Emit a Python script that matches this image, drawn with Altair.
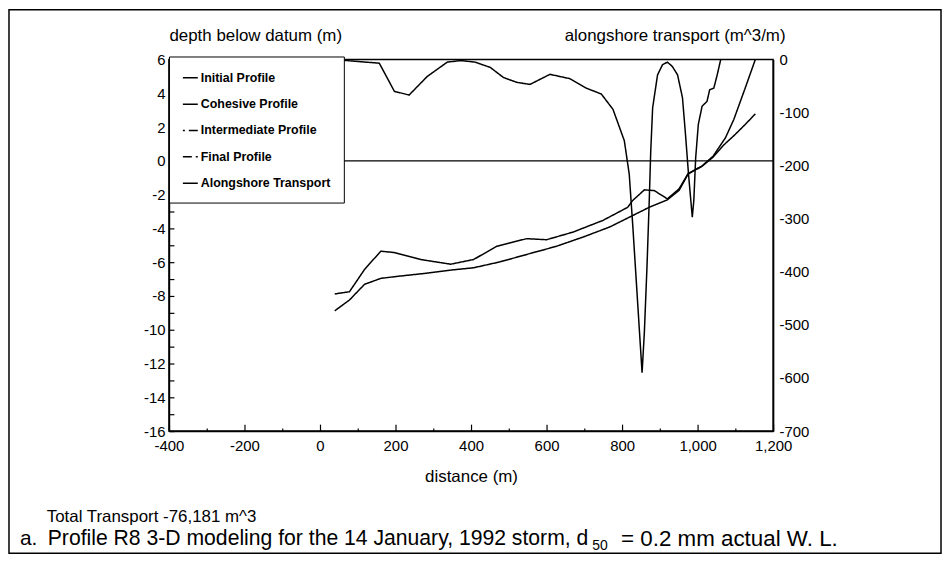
import altair as alt
import pandas as pd

# ---------------- data ----------------
initial_x = [39, 78, 118, 161, 197, 266, 346, 407, 468, 547, 600, 670, 749, 815, 828,
             859, 885, 920, 951, 975, 1012, 1041, 1074, 1096, 1126, 1153]
initial_depth = [-7.88, -7.75, -6.43, -5.35, -5.43, -5.84, -6.12, -5.84, -5.06, -4.61,
                 -4.67, -4.22, -3.53, -2.75, -2.35, -1.72, -1.76, -2.25, -1.66, -0.75,
                 -0.3, 0.27, 1.37, 2.45, 4.3, 6.0]

cohesive_x = [39, 78, 118, 161, 197, 275, 346, 407, 477, 556, 626, 697, 767, 819, 837,
              872, 920, 951, 975, 1012, 1041, 1070, 1100, 1126, 1153]
cohesive_depth = [-8.88, -8.24, -7.31, -6.96, -6.86, -6.67, -6.47, -6.33, -5.98, -5.49,
                  -5.06, -4.51, -3.92, -3.34, -3.14, -2.75, -2.31, -1.75, -0.78, -0.32,
                  0.22, 0.95, 1.57, 2.15, 2.78]

transport_x = [30, 69, 157, 197, 236, 284, 337, 372, 411, 451, 486, 521, 556, 609, 661,
               705, 745, 776, 806, 819, 828, 837, 845, 853, 859, 866, 872, 876, 881, 894,
               907, 920, 933, 947, 960, 968, 976, 986, 990, 995, 1002, 1012, 1025, 1032,
               1043, 1052, 1061, 1066]
transport_val = [0, -2, -7, -60, -67, -32, -5, -2, -5, -15, -34, -43, -47, -28, -36,
                 -54, -65, -94, -153, -216, -309, -410, -500, -590, -515, -391, -266, -172,
                 -91, -29, -10, -5, -13, -29, -72, -141, -216, -297, -266, -185, -122, -88,
                 -79, -57, -54, -29, -1, 15]

datum_level = [0]

series_names = ["Initial Profile", "Cohesive Profile", "Intermediate Profile",
                "Final Profile", "Alongshore Transport"]
dash_styles = [[1, 0], [1, 0], [2, 4, 9, 30], [9, 4, 2, 30], [1, 0]]

x_ticks = list(range(-400, 1201, 100))
depth_ticks = list(range(-16, 7, 1))
transport_ticks = list(range(-700, 1, 100))

depth_title = "depth below datum (m)"
transport_title = "alongshore transport (m^3/m)"
distance_title = "distance (m)"
total_text = "Total Transport  -76,181 m^3"
caption_lead = "a."
caption_main = "Profile R8 3-D modeling for the 14 January, 1992 storm, d"
caption_sub = "50"
caption_tail = "= 0.2 mm actual W. L."

# ---------------- tables ----------------
profiles = pd.DataFrame({
    "distance": initial_x + cohesive_x,
    "depth": initial_depth + cohesive_depth,
    "series": [series_names[0]] * len(initial_x) + [series_names[1]] * len(cohesive_x),
})
transport = pd.DataFrame({
    "distance": transport_x,
    "transport": transport_val,
    "series": [series_names[4]] * len(transport_x),
})
level = pd.DataFrame({"depth": datum_level})

W, H = 608, 374
FONT = "Liberation Sans"

neg = "(datum.value < 0 ? '-' + format(-datum.value, ',') : format(datum.value, ','))"

x_axis = alt.Axis(
    values=x_ticks,
    labelExpr="datum.value % 200 === 0 ? " + neg + " : ''",
    tickSize={"expr": "datum.value % 200 === 0 ? -7 : -3"},
    labelPadding=15,
    title=distance_title,
    titleX=W / 2,
    titleY=46,
    titleBaseline="middle",
    labelFlush=False,
    labelOverlap=False,
    grid=False,
)
x_scale = alt.Scale(domain=[-400, 1200], nice=False, zero=False)

depth_axis = alt.Axis(
    values=depth_ticks,
    labelExpr="datum.value % 2 === 0 ? " + neg + " : ''",
    tickSize={"expr": "-5"},
    labelPadding=9,
    title=depth_title,
    titleAngle=0,
    titleAlign="left",
    titleBaseline="middle",
    titleX=0,
    titleY=-24,
    labelFlush=False,
    labelOverlap=False,
    grid=False,
)
depth_scale = alt.Scale(domain=[-16, 6], nice=False, zero=False)

dash_enc = alt.StrokeDash(
    "series:N",
    scale=alt.Scale(domain=series_names, range=dash_styles),
    legend=alt.Legend(
        title=None,
        orient="none",
        legendX=0,
        legendY=-3,
        symbolType="stroke",
        symbolSize=225,
        symbolStrokeWidth=1.5,
        symbolStrokeColor="black",
        labelFont=FONT,
        labelFontSize=12.5,
        labelFontWeight="bold",
        labelColor="black",
        labelOffset=2,
        labelLimit=300,
        padding=13,
        rowPadding=11.5,
        fillColor="white",
        strokeColor="black",
    ),
)

zero_rule = alt.Chart(level).mark_rule(color="black", strokeWidth=1.2).encode(
    y=alt.Y("depth:Q", scale=depth_scale, axis=depth_axis)
)

profile_lines = alt.Chart(profiles).mark_line(
    color="black", strokeWidth=1.5, clip=True
).encode(
    x=alt.X("distance:Q", scale=x_scale, axis=x_axis),
    y=alt.Y("depth:Q", scale=depth_scale, axis=depth_axis),
    strokeDash=dash_enc,
)

left_layer = alt.layer(zero_rule, profile_lines)

transport_line = alt.Chart(transport).mark_line(
    color="black", strokeWidth=1.5, clip=True
).encode(
    x=alt.X("distance:Q", scale=x_scale, axis=x_axis),
    y=alt.Y(
        "transport:Q",
        scale=alt.Scale(domain=[-700, 0], nice=False, zero=False),
        axis=alt.Axis(
            orient="right",
            values=transport_ticks,
            labelExpr=neg,
            ticks=False,
            labelPadding=6,
            title=transport_title,
            titleAngle=0,
            titleAlign="right",
            titleBaseline="middle",
            titleX=12,
            titleY=-24,
            labelFlush=False,
            labelOverlap=False,
            grid=False,
        ),
    ),
    strokeDash=alt.StrokeDash("series:N"),
)

one = pd.DataFrame({"a": [0]})

frame = alt.Chart(one).mark_rect(
    fillOpacity=0, stroke="black", strokeWidth=1.5
).encode(
    x=alt.value(-161), x2=alt.value(777), y=alt.value(-50), y2=alt.value(497)
)

def label(text, x, y, size, baseline="middle"):
    return alt.Chart(pd.DataFrame({"t": [text]})).mark_text(
        align="left", baseline=baseline, font=FONT, fontSize=size, color="black"
    ).encode(x=alt.value(x), y=alt.value(y), text="t:N")

texts = [
    label(total_text, -123, 460, 17),
    label(caption_lead, -150, 483, 21),
    label(caption_main, -122, 483, 21.3),
    label(caption_sub, 426, 490, 14),
    label(caption_tail, 455, 483, 22.5),
]

chart = alt.layer(left_layer, transport_line, frame, *texts).resolve_scale(
    y="independent"
).properties(
    width=W,
    height=H,
    background="white",
    autosize=alt.AutoSizeParams(type="none"),
    padding={"left": 162, "top": 50, "right": 171, "bottom": 140},
).configure_view(
    stroke="black", strokeWidth=1.5
).configure_axis(
    labelFont=FONT,
    labelFontSize=15,
    labelColor="black",
    titleFont=FONT,
    titleFontSize=17,
    titleFontWeight="normal",
    titleColor="black",
    domainColor="black",
    domainWidth=1.5,
    tickColor="black",
    tickWidth=1.2,
)

chart.save("out.html", embed_options={"renderer": "svg", "actions": False})
